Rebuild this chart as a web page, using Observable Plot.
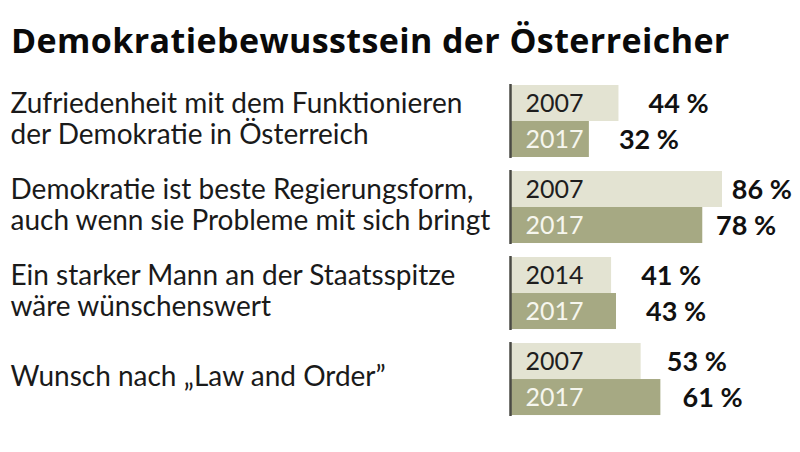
<!DOCTYPE html>
<html>
<head>
<meta charset="utf-8">
<script src="https://cdn.jsdelivr.net/npm/d3@7"></script>
<script src="https://cdn.jsdelivr.net/npm/@observablehq/plot@0.6"></script>
<style>
  html, body { margin: 0; padding: 0; background: #ffffff; }
  #wrap { width: 800px; height: 452px; overflow: hidden; }
  #title {
    height: 70px; box-sizing: border-box; margin: 0;
    padding: 18px 0 0 11px;
    font-family: "Open Sans", Lato, sans-serif; font-weight: 700; font-size: 34px;
    line-height: 44px; color: #0a0a0a; white-space: nowrap; letter-spacing: 0.4px;
  }
  svg { display: block; }
</style>
</head>
<body>
<div id="wrap">
  <div id="title">Demokratiebewusstsein der Österreicher</div>
  <div id="chart"></div>
</div>
<script>
const categories = [
  "Zufriedenheit mit dem Funktionieren\nder Demokratie in Österreich",
  "Demokratie ist beste Regierungsform,\nauch wenn sie Probleme mit sich bringt",
  "Ein starker Mann an der Staatsspitze\nwäre wünschenswert",
  "Wunsch nach „Law and Order”"
];
const yearsFirst  = ["2007", "2007", "2014", "2007"];
const yearsSecond = ["2017", "2017", "2017", "2017"];
const valuesFirst  = [44, 86, 41, 53];
const valuesSecond = [32, 78, 43, 61];

const lightFill = "#e3e3d2";
const darkFill = "#a6a983";

const rows = [];
categories.forEach((c, i) => {
  rows.push({cat: c, slot: "a", year: yearsFirst[i], value: valuesFirst[i]});
  rows.push({cat: c, slot: "b", year: yearsSecond[i], value: valuesSecond[i]});
});

// label placement offset (in % units) — labels sit closer to long bars
const labelOffset = v => v <= 45 ? 12 : 12 - 0.2 * (v - 45);

const chart = Plot.plot({
  width: 800,
  height: 382,
  marginLeft: 510,
  marginRight: 43.5,
  marginTop: 14,
  marginBottom: 36,
  style: {fontFamily: "Lato, 'Open Sans', sans-serif", background: "#ffffff"},
  x: {domain: [0, 100], axis: null},
  y: {domain: ["a", "b"], axis: null, padding: 0},
  fy: {domain: categories, axis: null, paddingInner: 0.14, paddingOuter: 0, round: false},
  marks: [
    Plot.barX(rows, {
      x: "value", y: "slot", fy: "cat",
      fill: d => d.slot === "a" ? lightFill : darkFill
    }),
    Plot.ruleX(categories, {x: () => 0, fy: d => d, stroke: "#4a4a44", strokeWidth: 2.5}),
    Plot.text(rows, {
      x: () => 0, y: "slot", fy: "cat", text: "year",
      dx: 15, textAnchor: "start", fontSize: 25,
      fill: d => d.slot === "a" ? "#1e1e1e" : "#f6f6ee"
    }),
    Plot.text(rows, {
      x: d => d.value + labelOffset(d.value), y: "slot", fy: "cat",
      text: d => d.value + " %", textAnchor: "start",
      fontSize: 27, fontWeight: "bold", fill: "#111111", dy: 1
    }),
    Plot.text(categories, {
      fy: d => d, text: d => d, frameAnchor: "left", dx: -500, dy: -3,
      textAnchor: "start", lineAnchor: "middle", lineHeight: 1.11,
      fontSize: 28, fill: "#1a1a1a"
    })
  ]
});
document.getElementById("chart").appendChild(chart);
</script>
</body>
</html>
